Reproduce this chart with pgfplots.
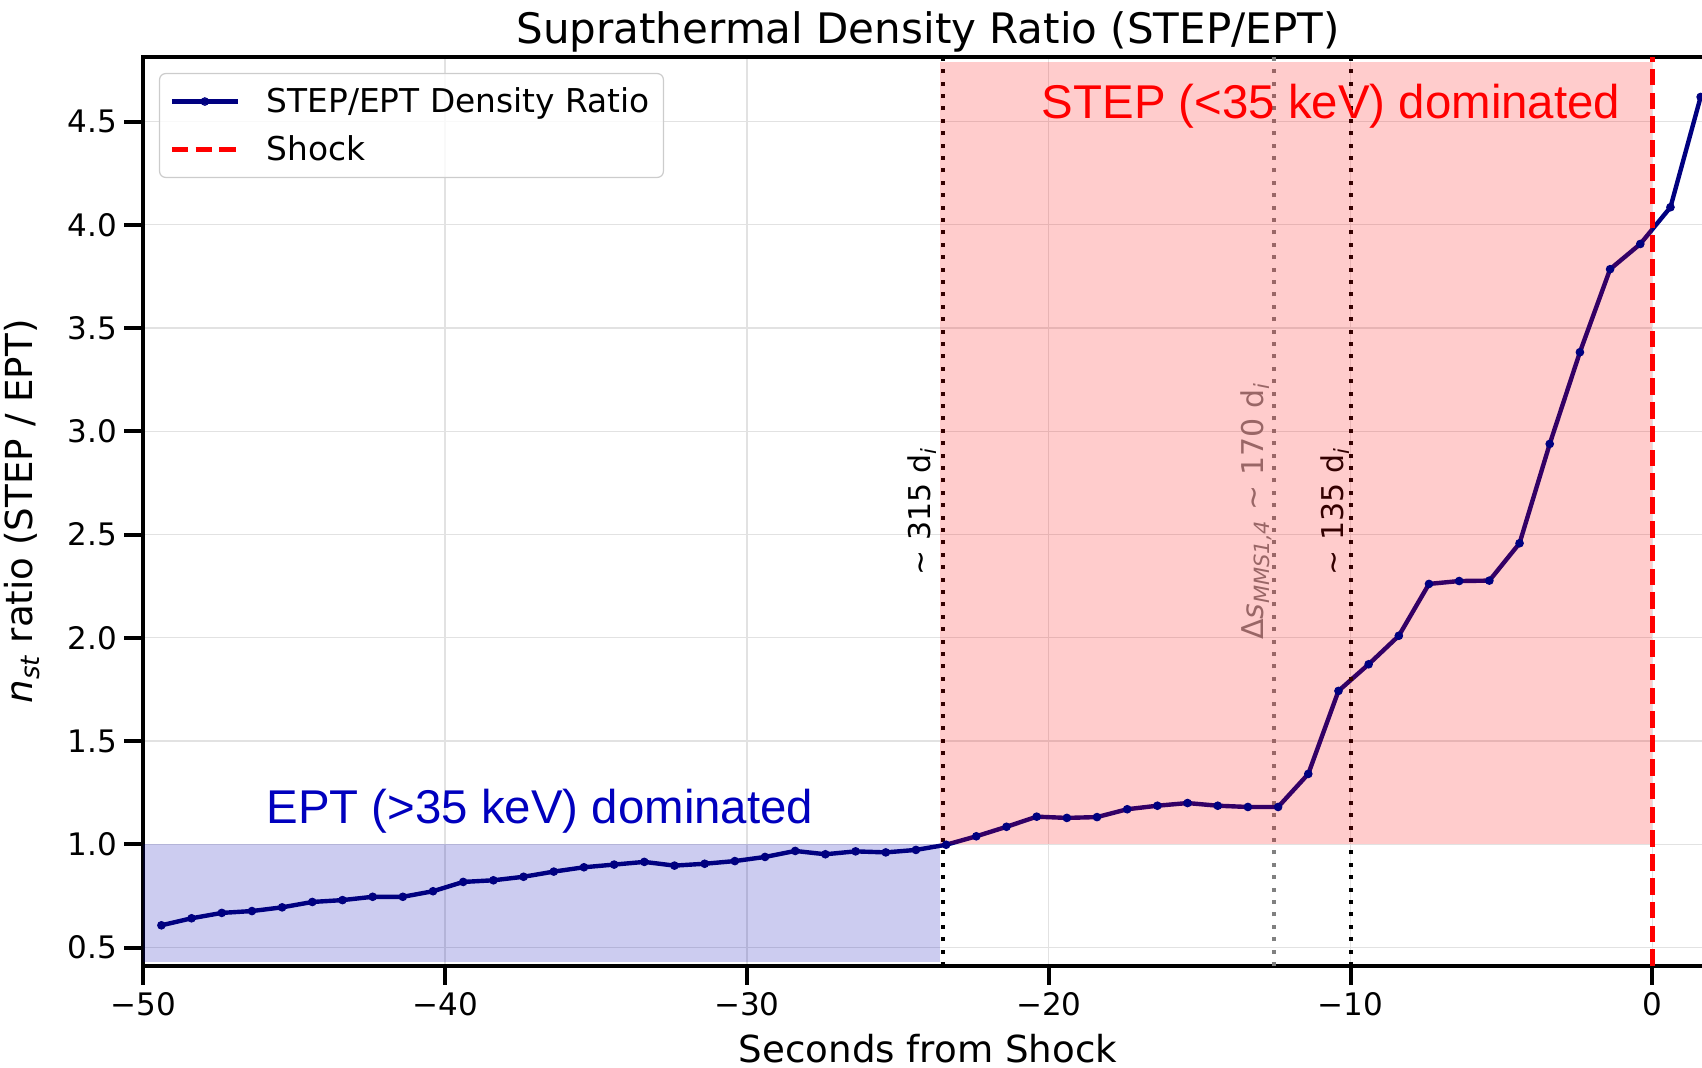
\documentclass[border=0pt]{standalone}
\usepackage{fontspec}
\setmainfont{DejaVu Sans}
\newfontfamily\arialfont{Liberation Sans}
\usepackage{pgfplots}
\usepackage{pgfplotstable}
\pgfplotsset{compat=1.18}

\definecolor{navyc}{RGB}{0,0,128}
\definecolor{eptblue}{RGB}{0,0,190}
\definecolor{fillblue}{RGB}{0,0,180}
\definecolor{gridc}{RGB}{226,226,226}
\definecolor{grayc}{RGB}{128,128,128}

\pgfplotstableread{
x y
-49.4 0.608
-48.4 0.642
-47.4 0.668
-46.4 0.677
-45.4 0.695
-44.4 0.721
-43.4 0.730
-42.4 0.746
-41.4 0.746
-40.4 0.773
-39.4 0.818
-38.4 0.826
-37.4 0.843
-36.4 0.868
-35.4 0.889
-34.4 0.902
-33.4 0.915
-32.4 0.897
-31.4 0.906
-30.4 0.919
-29.4 0.939
-28.4 0.968
-27.4 0.952
-26.4 0.966
-25.4 0.961
-24.4 0.973
-23.4 0.998
-22.4 1.039
-21.4 1.085
-20.4 1.134
-19.4 1.128
-18.4 1.132
-17.4 1.170
-16.4 1.187
-15.4 1.200
-14.4 1.187
-13.4 1.181
-12.4 1.181
-11.4 1.341
-10.4 1.743
-9.4 1.872
-8.4 2.010
-7.4 2.261
-6.4 2.275
-5.4 2.277
-4.4 2.458
-3.4 2.939
-2.4 3.383
-1.4 3.785
-0.4 3.907
0.6 4.085
1.6 4.619
}\ratiotable

\begin{document}
\begin{tikzpicture}
\useasboundingbox (0,0) rectangle (851pt,534pt);
\clip (0,0) rectangle (851pt,534pt);
\begin{axis}[
  at={(71.65pt,51pt)}, anchor=south west,
  scale only axis, width=784.7pt, height=454.65pt,
  xmin=-50, xmax=2, ymin=0.411, ymax=4.814,
  axis line style={line width=2pt, black},
  tick pos=left, tick align=outside,
  major tick length=9.5pt,
  tick style={line width=2pt, black},
  grid=major, grid style={gridc, line width=0.65pt},
  xtick={-50,-40,-30,-20,-10,0},
  xticklabels={−50,−40,−30,−20,−10,0},
  ytick={0.5,1,1.5,2,2.5,3,3.5,4,4.5},
  yticklabels={0.5,1.0,1.5,2.0,2.5,3.0,3.5,4.0,4.5},
  ticklabel style={font=\fontsize{15.5}{18}\selectfont},
  every axis title shift=0pt,
  title={Suprathermal Density Ratio (STEP/EPT)},
  title style={font=\fontsize{21}{25}\selectfont, at={(axis description cs:0.5,1.0145)}, anchor=base, inner sep=0pt},
  xlabel={Seconds from Shock},
  xlabel style={font=\fontsize{18.6}{22}\selectfont, at={(axis description cs:0.5,-0.1058)}, anchor=base, inner sep=0pt},
  ylabel={{\itshape n}\textsubscript{\itshape st} ratio (STEP / EPT)},
  ylabel style={font=\fontsize{18.6}{22}\selectfont, at={(axis description cs:-0.0703,0.5)}, anchor=base, inner sep=0pt},
  legend style={at={(axis description cs:0.0100,0.98207)}, anchor=north west,
    draw=black!20, line width=0.6pt, rounded corners=3pt, fill=white, fill opacity=0.8, text opacity=1, draw opacity=1,
    font=\fontsize{16.4}{19}\selectfont, inner xsep=5pt, inner ysep=5pt, row sep=6pt, column sep=11.3pt},
  legend cell align=left,
  legend image code/.code={\draw[mark repeat=2,mark phase=2,#1] plot coordinates {(0pt,0pt)(16.5pt,0pt)(33pt,0pt)};},
]
\fill[fillblue, fill opacity=0.2] (axis cs:-50,0.431) rectangle (axis cs:-23.6,1.0);

\addplot[color=navyc, line width=2.2pt, mark=*, mark size=1.9pt,
  mark options={solid, fill=navyc, draw=navyc, line width=0.5pt}] table[x=x,y=y] {\ratiotable};
\addlegendentry{STEP/EPT Density Ratio}

\addplot[forget plot, black, line width=2pt, dash pattern=on 2pt off 4.2pt] coordinates {(-23.5,0.411) (-23.5,4.814)};
\addplot[forget plot, grayc, line width=2pt, dash pattern=on 2pt off 4.2pt] coordinates {(-12.55,0.411) (-12.55,4.814)};
\addplot[forget plot, black, line width=2pt, dash pattern=on 2pt off 4.2pt] coordinates {(-10,0.411) (-10,4.814)};

\node[rotate=90, anchor=base, inner sep=0pt, font=\fontsize{15}{17}\selectfont] at (axis cs:-23.91,2.6125) {\textasciitilde{} 315 d\textsubscript{\itshape i}};
\node[rotate=90, anchor=base, inner sep=0pt, font=\fontsize{15}{17}\selectfont, text=grayc] at (axis cs:-12.88,2.6125) {Δ{\itshape s}\textsubscript{\itshape MMS1,4} \textasciitilde{} 170 d\textsubscript{\itshape i}};
\node[rotate=90, anchor=base, inner sep=0pt, font=\fontsize{15}{17}\selectfont] at (axis cs:-10.23,2.6125) {\textasciitilde{} 135 d\textsubscript{\itshape i}};

\node[anchor=base west, inner sep=0pt, text=eptblue, font=\arialfont\fontsize{23.7}{28}\selectfont] at (axis cs:-45.93,1.102) {EPT (>35 keV) dominated};

\fill[red, fill opacity=0.2] (axis cs:-23.6,1.0) rectangle (axis cs:0,4.79);

\node[anchor=base east, inner sep=0pt, text=red, font=\arialfont\fontsize{23.7}{28}\selectfont] at (axis cs:-1.05,4.515) {STEP (<35 keV) dominated};

\addplot[red, line width=2.25pt, dash pattern=on 8.3pt off 3.6pt] coordinates {(0,0.411) (0,4.814)};
\addlegendentry{Shock}
\end{axis}
\end{tikzpicture}
\end{document}
